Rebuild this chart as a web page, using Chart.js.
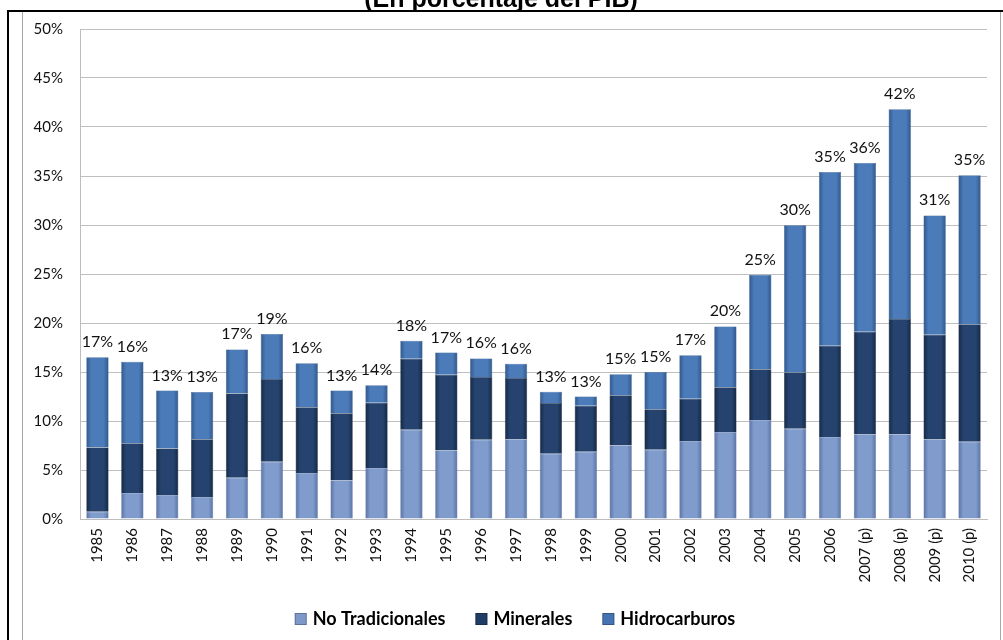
<!DOCTYPE html>
<html>
<head>
<meta charset="utf-8">
<title>(En porcentaje del PIB)</title>
<script src="https://cdn.jsdelivr.net/npm/chart.js@4.4.0/dist/chart.umd.min.js"></script>
<style>
  html, body { margin: 0; padding: 0; background: #fff; }
  canvas { display: block; }
</style>
</head>
<body>
<canvas id="chart" width="1003" height="640"></canvas>
<script>
// ############################### DATA ###############################

var years = ['1985', '1986', '1987', '1988', '1989', '1990', '1991', '1992', '1993', '1994',
             '1995', '1996', '1997', '1998', '1999', '2000', '2001', '2002', '2003', '2004',
             '2005', '2006', '2007 (p)', '2008 (p)', '2009 (p)', '2010 (p)'];

var noTradicionales = [0.75, 2.66, 2.45, 2.25, 4.2, 5.83, 4.7, 3.95, 5.2, 9.1,
                       7.0, 8.08, 8.15, 6.65, 6.85, 7.53, 7.06, 7.95, 8.87, 10.1,
                       9.21, 8.36, 8.63, 8.66, 8.12, 7.88];

var minerales = [6.55, 5.08, 4.75, 5.9, 8.6, 8.45, 6.7, 6.85, 6.66, 7.26,
                 7.73, 6.4, 6.23, 5.18, 4.7, 5.11, 4.15, 4.33, 4.57, 5.18,
                 5.73, 9.31, 10.47, 11.74, 10.68, 12.0];

var hidrocarburos = [9.2, 8.3, 5.9, 4.8, 4.5, 4.6, 4.5, 2.3, 1.8, 1.84,
                     2.25, 1.9, 1.47, 1.16, 0.95, 2.12, 3.8, 4.42, 6.21, 9.65,
                     15.04, 17.73, 17.22, 21.4, 12.17, 15.2];

// totals as printed above each bar
var totalLabels = [17, 16, 13, 13, 17, 19, 16, 13, 14, 18,
                   17, 16, 16, 13, 13, 15, 15, 17, 20, 25,
                   30, 35, 36, 42, 31, 35];

var titleText = '(En porcentaje del PIB)';

var barPct = 0.64;

// ############################### HELPERS ###############################

// horizontal shading so each bar has darker edges
function shadedFill(light, dark) {
    return function (context) {
        var chart = context.chart;
        var xScale = chart.scales && chart.scales.x;
        if (!xScale || context.dataIndex === undefined) return light;
        var cx = xScale.getPixelForValue(context.dataIndex);
        var half = xScale.width / years.length * barPct / 2;
        if (!isFinite(cx) || !isFinite(half) || half <= 0) return light;
        var g = chart.ctx.createLinearGradient(cx - half, 0, cx + half, 0);
        g.addColorStop(0, dark);
        g.addColorStop(0.22, light);
        g.addColorStop(0.78, light);
        g.addColorStop(1, dark);
        return g;
    };
}

// frame, cut title and outer lines
var framePlugin = {
    id: 'frame',
    beforeDraw: function (chart) {
        var ctx = chart.ctx;
        ctx.save();
        ctx.fillStyle = '#fff';
        ctx.fillRect(0, 0, chart.width, chart.height);

        ctx.fillStyle = '#000';
        ctx.font = 'bold 25px "Liberation Sans", Arial, sans-serif';
        ctx.textAlign = 'center';
        ctx.textBaseline = 'alphabetic';
        ctx.fillText(titleText, 501, 7);

        ctx.fillStyle = '#fff';
        ctx.fillRect(0, 10, chart.width, chart.height);

        ctx.fillStyle = '#000';
        ctx.fillRect(7, 10, chart.width - 7, 2);
        ctx.fillRect(7, 10, 2, chart.height - 10);

        ctx.fillStyle = '#a6a6a6';
        ctx.fillRect(22, 12, 1, chart.height - 12);
        ctx.fillRect(1000, 12, 1, chart.height - 12);
        ctx.restore();
    }
};

// total labels above bars + legend row
var labelsPlugin = {
    id: 'totals',
    afterDatasetsDraw: function (chart) {
        var ctx = chart.ctx;
        var topMeta = chart.getDatasetMeta(chart.data.datasets.length - 1);
        ctx.save();
        ctx.fillStyle = '#111';
        ctx.font = '16px Lato, "Open Sans", sans-serif';
        ctx.textAlign = 'center';
        ctx.textBaseline = 'alphabetic';
        topMeta.data.forEach(function (bar, i) {
            ctx.fillText(totalLabels[i] + '%', bar.x, bar.y - 10);
        });
        ctx.restore();
    },
    afterDraw: function (chart) {
        var ctx = chart.ctx;
        var sets = chart.data.datasets;
        var box = 12, gap = 6, spacing = 30;
        ctx.save();
        ctx.font = 'bold 18px Lato, "Open Sans", sans-serif';
        var total = 0;
        sets.forEach(function (ds, i) {
            total += box + gap + ctx.measureText(ds.label).width;
            if (i < sets.length - 1) total += spacing;
        });
        var x = 515 - total / 2;
        var baseY = 625;
        ctx.textAlign = 'left';
        ctx.textBaseline = 'alphabetic';
        sets.forEach(function (ds) {
            ctx.fillStyle = ds.legendColor;
            ctx.fillRect(x, baseY - box, box, box);
            ctx.strokeStyle = 'rgba(0,0,0,0.25)';
            ctx.lineWidth = 1;
            ctx.strokeRect(x + 0.5, baseY - box + 0.5, box - 1, box - 1);
            x += box + gap;
            ctx.fillStyle = '#000';
            ctx.fillText(ds.label, x, baseY);
            x += ctx.measureText(ds.label).width + spacing;
        });
        ctx.restore();
    }
};

// ############################### CHART ###############################

var chart = new Chart(document.getElementById('chart'), {
    type: 'bar',
    data: {
        labels: years,
        datasets: [
            {
                label: 'No Tradicionales',
                data: noTradicionales,
                backgroundColor: shadedFill('#809CCD', '#5A72A2'),
                legendColor: '#7D98C9',
                borderColor: '#5C74A3',
                borderWidth: 0.5
            },
            {
                label: 'Minerales',
                data: minerales,
                backgroundColor: shadedFill('#25436E', '#152843'),
                legendColor: '#213D66',
                borderColor: '#152843',
                borderWidth: 0.5
            },
            {
                label: 'Hidrocarburos',
                data: hidrocarburos,
                backgroundColor: shadedFill('#4B7BB9', '#30578A'),
                legendColor: '#4674B2',
                borderColor: '#30578A',
                borderWidth: 0.5
            }
        ]
    },
    options: {
        responsive: false,
        animation: false,
        barPercentage: barPct,
        categoryPercentage: 1,
        layout: {
            padding: { top: 29, left: 22, right: 16, bottom: 42 }
        },
        plugins: {
            legend: { display: false },
            title: { display: false },
            tooltip: { enabled: false }
        },
        scales: {
            x: {
                stacked: true,
                grid: { display: false, drawTicks: false },
                border: { display: true, color: '#bdbdbd' },
                ticks: {
                    autoSkip: false,
                    minRotation: 90,
                    maxRotation: 90,
                    padding: 9,
                    color: '#111',
                    font: { family: 'Lato, "Open Sans", sans-serif', size: 15 }
                },
                afterFit: function (scale) { scale.height = 79; }
            },
            y: {
                stacked: true,
                min: 0,
                max: 50,
                grid: { color: '#bfbfbf', drawTicks: false },
                border: { display: true, color: '#bdbdbd' },
                ticks: {
                    stepSize: 5,
                    padding: 17,
                    color: '#111',
                    font: { family: 'Lato, "Open Sans", sans-serif', size: 15 },
                    callback: function (v) { return v + '%'; }
                },
                afterFit: function (scale) { scale.width = 58; }
            }
        }
    },
    plugins: [framePlugin, labelsPlugin]
});
</script>
</body>
</html>
